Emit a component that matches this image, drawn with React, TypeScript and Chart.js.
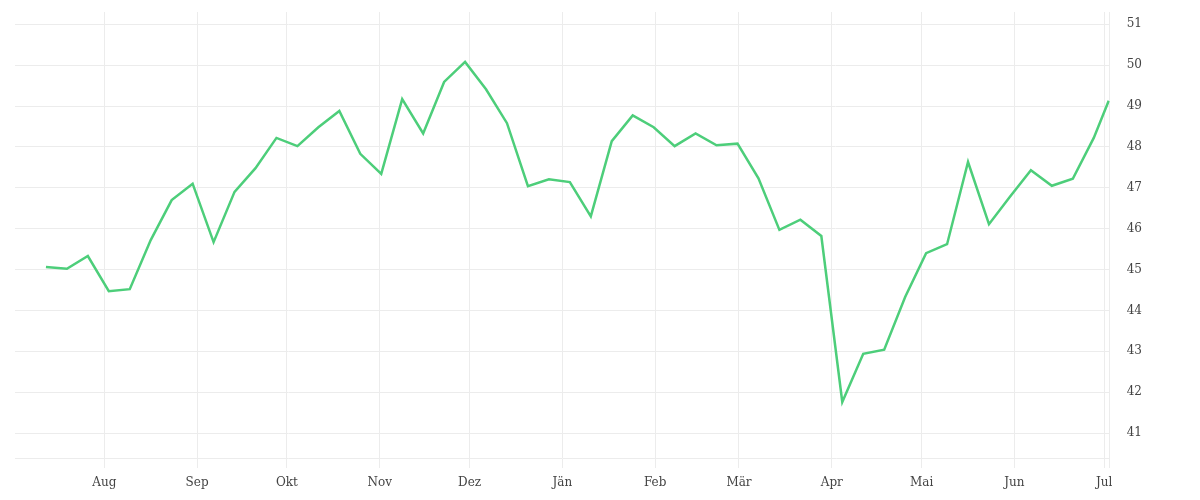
import {useEffect, useRef} from "react";
import {Chart, registerables} from "chart.js";

Chart.register(...registerables);

// weekly readings, last one is a partial week
const dates = [
    '2022-07-12', '2022-07-19', '2022-07-26', '2022-08-02', '2022-08-09', '2022-08-16', '2022-08-23', '2022-08-30',
    '2022-09-06', '2022-09-13', '2022-09-20', '2022-09-27', '2022-10-04', '2022-10-11', '2022-10-18', '2022-10-25',
    '2022-11-01', '2022-11-08', '2022-11-15', '2022-11-22', '2022-11-29', '2022-12-06', '2022-12-13', '2022-12-20',
    '2022-12-27', '2023-01-03', '2023-01-10', '2023-01-17', '2023-01-24', '2023-01-31', '2023-02-07', '2023-02-14',
    '2023-02-21', '2023-02-28', '2023-03-07', '2023-03-14', '2023-03-21', '2023-03-28', '2023-04-04', '2023-04-11',
    '2023-04-18', '2023-04-25', '2023-05-02', '2023-05-09', '2023-05-16', '2023-05-23', '2023-05-30', '2023-06-06',
    '2023-06-13', '2023-06-20', '2023-06-27', '2023-07-02'
];

const values = [
    45.06, 45.02, 45.33, 44.47, 44.52, 45.72, 46.70, 47.10, 45.67, 46.90,
    47.48, 48.22, 48.02, 48.48, 48.88, 47.83, 47.34, 49.17, 48.33, 49.59,
    50.08, 49.41, 48.58, 47.04, 47.21, 47.14, 46.30, 48.14, 48.77, 48.48,
    48.02, 48.33, 48.04, 48.08, 47.23, 45.97, 46.22, 45.82, 41.76, 42.94,
    43.04, 44.33, 45.40, 45.62, 47.63, 46.11, 46.78, 47.43, 47.05, 47.22,
    48.22, 49.13
];

const monthStarts = [
    '2022-08-01', '2022-09-01', '2022-10-01', '2022-11-01', '2022-12-01', '2023-01-01',
    '2023-02-01', '2023-03-01', '2023-04-01', '2023-05-01', '2023-06-01', '2023-07-01'
];
const monthLabels = ['Aug', 'Sep', 'Okt', 'Nov', 'Dez', 'Jän', 'Feb', 'Mär', 'Apr', 'Mai', 'Jun', 'Jul'];

const yTicks = [41, 42, 43, 44, 45, 46, 47, 48, 49, 50, 51];

const toMs = (d: string, h = '12:00') => Date.parse(d + 'T' + h + ':00Z');

const LineChart = () => {
    const canvasRef = useRef<HTMLCanvasElement>(null);

    useEffect(() => {
        const ctx = canvasRef.current;
        if (!ctx) return;

        const xMin = toMs('2022-07-02', '04:00');
        const xMax = toMs('2023-07-02', '20:00');
        const tickMs = monthStarts.map(d => toMs(d, '00:00'));
        const gridColor = '#ececec';
        const family = '"DejaVu Serif", serif';

        const myChart = new Chart(ctx, {
            type: 'line',
            data: {
                datasets: [
                    {
                        data: dates.map((d, i) => ({x: toMs(d), y: values[i]})),
                        borderColor: '#4dce7a',
                        backgroundColor: '#4dce7a',
                        borderWidth: 2.5,
                        pointRadius: 0,
                        pointHoverRadius: 0,
                        tension: 0
                    }
                ]
            },
            options: {
                responsive: true,
                maintainAspectRatio: false,
                animation: false,
                layout: {padding: {top: 4, left: 7, right: 50, bottom: 0}},
                plugins: {
                    legend: {display: false},
                    tooltip: {enabled: false}
                },
                scales: {
                    x: {
                        type: 'linear',
                        min: xMin,
                        max: xMax,
                        afterBuildTicks: (axis: any) => {
                            axis.ticks = [...tickMs.map(v => ({value: v})), {value: xMax}];
                        },
                        afterFit: (axis: any) => {
                            axis.height = 34;
                        },
                        grid: {color: gridColor, tickLength: 10, drawTicks: true},
                        border: {color: gridColor},
                        ticks: {
                            autoSkip: false,
                            maxRotation: 0,
                            padding: 8,
                            color: '#444',
                            font: {family, size: 12},
                            callback: (v: any) => {
                                const i = tickMs.indexOf(Number(v));
                                return i >= 0 ? monthLabels[i] : '';
                            }
                        }
                    },
                    y: {
                        position: 'right',
                        min: 40.39,
                        max: 51.3,
                        afterBuildTicks: (axis: any) => {
                            axis.ticks = yTicks.map(v => ({value: v}));
                        },
                        grid: {color: gridColor, drawTicks: true, tickLength: 17, tickColor: 'rgba(0,0,0,0)'},
                        border: {color: gridColor},
                        ticks: {
                            padding: 0,
                            color: '#444',
                            font: {family, size: 12, lineHeight: 0.6}
                        }
                    }
                }
            }
        });
        return () => {
            myChart.destroy();
        };
    }, []);

    return (
        <div style={{height: '484px'}}>
            <canvas ref={canvasRef}></canvas>
        </div>
    );
};

export default function App() {
    return <LineChart/>;
}
